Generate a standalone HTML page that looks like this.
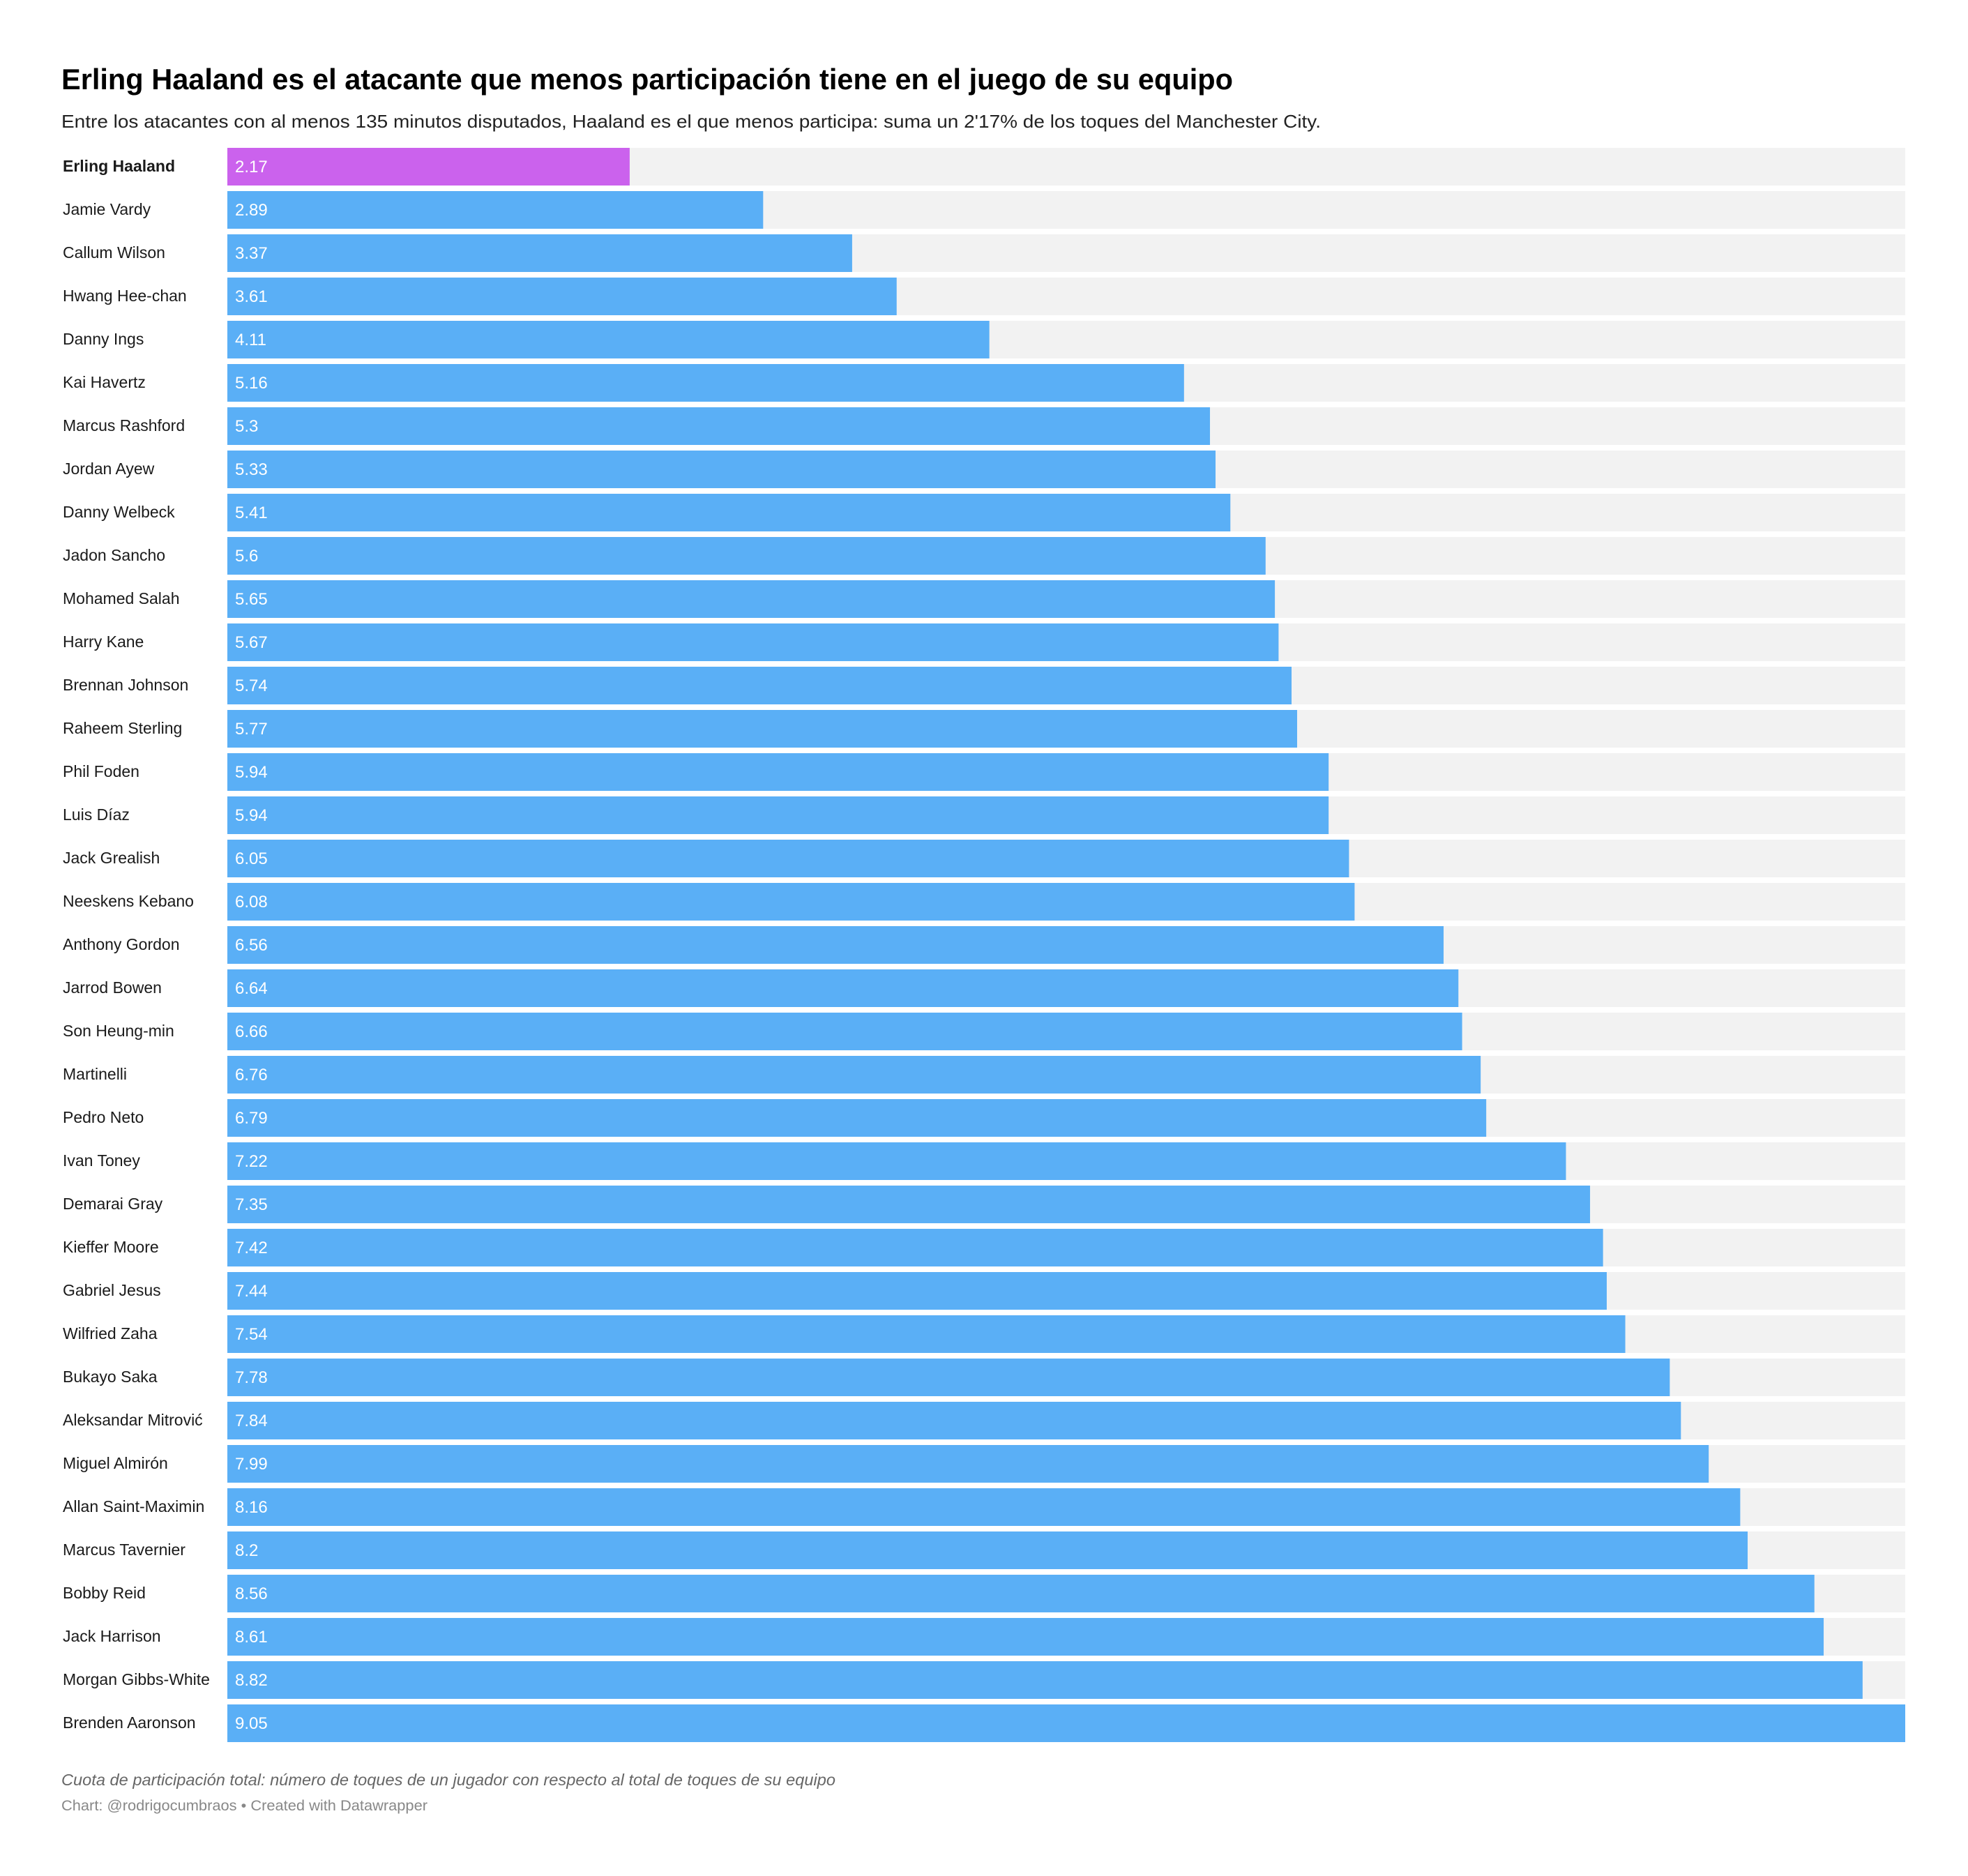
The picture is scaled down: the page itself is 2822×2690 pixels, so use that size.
<!DOCTYPE html>
<html><head><meta charset="utf-8"><style>
html,body{margin:0;padding:0;background:#fff;}
svg{display:block;font-family:"Liberation Sans",Arial,sans-serif;}
</style></head><body>
<svg id="chart" width="2822" height="2690" viewBox="0 0 2822 2690" xmlns="http://www.w3.org/2000/svg">
<rect width="2822" height="2690" fill="#fff"/>
<text x="88" y="128" font-size="42" font-weight="bold" fill="#000" textLength="1680" lengthAdjust="spacingAndGlyphs">Erling Haaland es el atacante que menos participación tiene en el juego de su equipo</text>
<text x="88" y="183" font-size="26" fill="#222" textLength="1806" lengthAdjust="spacingAndGlyphs">Entre los atacantes con al menos 135 minutos disputados, Haaland es el que menos participa: suma un 2'17% de los toques del Manchester City.</text>
<g id="bars"></g>
<text x="88" y="2560" font-size="23" font-style="italic" fill="#666" textLength="1110" lengthAdjust="spacingAndGlyphs">Cuota de participación total: número de toques de un jugador con respecto al total de toques de su equipo</text>
<text x="88" y="2596" font-size="21" fill="#888" textLength="525" lengthAdjust="spacingAndGlyphs">Chart: @rodrigocumbraos • Created with Datawrapper</text>
</svg>
<script>
const players = ["Erling Haaland","Jamie Vardy","Callum Wilson","Hwang Hee-chan","Danny Ings","Kai Havertz","Marcus Rashford","Jordan Ayew","Danny Welbeck","Jadon Sancho","Mohamed Salah","Harry Kane","Brennan Johnson","Raheem Sterling","Phil Foden","Luis Díaz","Jack Grealish","Neeskens Kebano","Anthony Gordon","Jarrod Bowen","Son Heung-min","Martinelli","Pedro Neto","Ivan Toney","Demarai Gray","Kieffer Moore","Gabriel Jesus","Wilfried Zaha","Bukayo Saka","Aleksandar Mitrović","Miguel Almirón","Allan Saint-Maximin","Marcus Tavernier","Bobby Reid","Jack Harrison","Morgan Gibbs-White","Brenden Aaronson"];
const values = [2.17,2.89,3.37,3.61,4.11,5.16,5.3,5.33,5.41,5.6,5.65,5.67,5.74,5.77,5.94,5.94,6.05,6.08,6.56,6.64,6.66,6.76,6.79,7.22,7.35,7.42,7.44,7.54,7.78,7.84,7.99,8.16,8.2,8.56,8.61,8.82,9.05];
const labels = ["2.17","2.89","3.37","3.61","4.11","5.16","5.3","5.33","5.41","5.6","5.65","5.67","5.74","5.77","5.94","5.94","6.05","6.08","6.56","6.64","6.66","6.76","6.79","7.22","7.35","7.42","7.44","7.54","7.78","7.84","7.99","8.16","8.2","8.56","8.61","8.82","9.05"];
const highlight = ["Erling Haaland"];

const X0 = 326, X1 = 2732, Y0 = 212, PITCH = 62, BH = 54;
const maxV = Math.max(...values);
const xScale = v => X0 + (v / maxV) * (X1 - X0);
const yScale = i => Y0 + i * PITCH;
const NS = "http://www.w3.org/2000/svg";
const g = document.getElementById("bars");
players.forEach((p, i) => {
  const y = yScale(i);
  const bg = document.createElementNS(NS, "rect");
  bg.setAttribute("x", X0); bg.setAttribute("y", y);
  bg.setAttribute("width", X1 - X0); bg.setAttribute("height", BH);
  bg.setAttribute("fill", "#f2f2f2");
  
  
  g.appendChild(bg);
  const r = document.createElementNS(NS, "rect");
  r.setAttribute("x", X0); r.setAttribute("y", y);
  r.setAttribute("width", xScale(values[i]) - X0); r.setAttribute("height", BH);
  const hl = highlight.includes(p);
  r.setAttribute("fill", hl ? "#cb62ed" : "#5aaff6");
  
  
  g.appendChild(r);
  const t = document.createElementNS(NS, "text");
  t.setAttribute("x", 90); t.setAttribute("y", y + 34);
  t.setAttribute("font-size", "23");
  t.setAttribute("fill", "#1a1a1a");
  if (hl) t.setAttribute("font-weight", "bold");
  t.textContent = p;
  
  
  g.appendChild(t);
  const v = document.createElementNS(NS, "text");
  v.setAttribute("x", X0 + 11); v.setAttribute("y", y + 35);
  v.setAttribute("font-size", "24");
  v.setAttribute("fill", "#fff");
  v.textContent = labels[i];
  
  
  g.appendChild(v);
});
</script>
</body></html>
